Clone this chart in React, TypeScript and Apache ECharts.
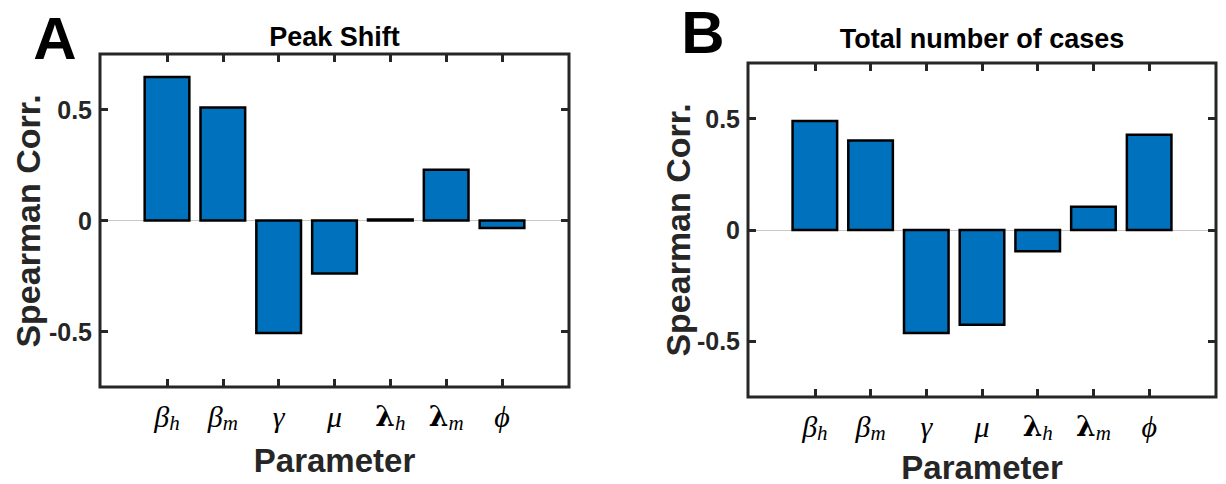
import React, { useEffect, useRef } from "react";
import * as echarts from "echarts";

// ---- data ----
const paramPos = [1, 2, 3, 4, 5, 6, 7];
const paramBase = ["β", "β", "γ", "μ", "λ", "λ", "ϕ"];
const paramSub = ["h", "m", "", "", "h", "m", ""];
const peakShift = [0.646, 0.509, -0.507, -0.239, 0.005, 0.229, -0.034];
const totalCases = [0.49, 0.402, -0.463, -0.426, -0.095, 0.104, 0.428];
const yTicks = [-0.5, 0, 0.5];
const panelTitles = ["Peak Shift", "Total number of cases"];
const panelLetters = ["A", "B"];
const yLabel = "Spearman Corr.";
const xLabel = "Parameter";

const AX = "#262626";
const SANS = '"Liberation Sans", Arial, Helvetica, sans-serif';
const SERIF = '"Liberation Serif", "DejaVu Serif", serif';
const SERIF_L = '"DejaVu Serif", "Liberation Serif", serif';

const grids = [
  { left: 100, top: 54, width: 469, height: 333 },
  { left: 748, top: 63, width: 468, height: 334 },
];

function tickLabel(value: number) {
  const i = paramPos.indexOf(Math.round(value));
  if (i < 0) return "";
  const key = paramBase[i] === "λ" ? "l" : "b";
  const base = `{${key}|${paramBase[i]}}`;
  return paramSub[i] ? `${base}{s|${paramSub[i]}}` : base;
}

const rich = {
  b: { fontFamily: SERIF, fontStyle: "italic", fontSize: 30, color: "#000", lineHeight: 34, verticalAlign: "middle" },
  l: { fontFamily: SERIF_L, fontWeight: "bold", fontSize: 28, color: "#000", lineHeight: 34, verticalAlign: "middle" },
  s: { fontFamily: SERIF, fontStyle: "italic", fontSize: 21, color: "#000", lineHeight: 34, verticalAlign: "bottom" },
};

function mkTick(values: number[]) {
  return { show: true, inside: true, length: 8, customValues: values, lineStyle: { color: AX, width: 3 } };
}

function axesFor(g: number) {
  const line = { show: false, onZero: false };
  const xAxes = [
    {
      gridIndex: g, type: "value", position: "bottom", min: -0.2, max: 8.2, z: 5,
      axisLine: line, splitLine: { show: false },
      axisTick: mkTick(paramPos),
      axisLabel: { show: true, customValues: paramPos, margin: 12, formatter: tickLabel, rich },
    },
    {
      gridIndex: g, type: "value", position: "top", min: -0.2, max: 8.2, z: 5,
      axisLine: line, splitLine: { show: false },
      axisTick: mkTick(paramPos),
      axisLabel: { show: false },
    },
  ];
  const yAxes = [
    {
      gridIndex: g, type: "value", position: "left", min: -0.75, max: 0.75, z: 5,
      axisLine: line, splitLine: { show: false },
      axisTick: mkTick(yTicks),
      axisLabel: {
        show: true, customValues: yTicks, margin: 8, color: AX,
        fontFamily: SANS, fontWeight: "bold", fontSize: 25,
        formatter: (v: number) => String(v),
      },
    },
    {
      gridIndex: g, type: "value", position: "right", min: -0.75, max: 0.75, z: 5,
      axisLine: line, splitLine: { show: false },
      axisTick: mkTick(yTicks),
      axisLabel: { show: false },
    },
  ];
  return { xAxes, yAxes };
}

function barSeries(g: number, values: number[]) {
  return {
    type: "custom",
    xAxisIndex: g * 2,
    yAxisIndex: g * 2,
    z: 3,
    data: values.map((v, i) => [paramPos[i], v]),
    encode: { x: 0, y: 1 },
    renderItem: (params: any, api: any) => {
      const x = api.value(0);
      const y = api.value(1);
      const p0 = api.coord([x - 0.4, y]);
      const p1 = api.coord([x + 0.4, 0]);
      return {
        type: "rect",
        shape: {
          x: p0[0],
          y: Math.min(p0[1], p1[1]),
          width: p1[0] - p0[0],
          height: Math.abs(p1[1] - p0[1]),
        },
        style: { fill: "#0072BD", stroke: "#000", lineWidth: 2.5 },
      };
    },
    markLine: {
      silent: true,
      z: 1,
      symbol: "none",
      label: { show: false },
      lineStyle: { color: "#c8c8c8", width: 1, type: "solid" },
      data: [{ yAxis: 0 }],
    },
  };
}

export default function App() {
  const ref = useRef<HTMLDivElement>(null);
  useEffect(() => {
    if (!ref.current) return;
    const chart = echarts.init(ref.current, null, { renderer: "svg" });
    const a0 = axesFor(0);
    const a1 = axesFor(1);
    const gridOpts = grids.map((g) => ({
      ...g,
      show: true,
      borderColor: AX,
      borderWidth: 3,
      backgroundColor: "transparent",
    }));
    const txt = (x: number, y: number, text: string, font: string, fill: string, rotation = 0) => ({
      type: "text",
      x,
      y,
      rotation,
      style: { text, font, fill, align: "center", verticalAlign: "middle" },
    });
    chart.setOption({
      animation: false,
      backgroundColor: "#fff",
      grid: gridOpts,
      xAxis: [...a0.xAxes, ...a1.xAxes],
      yAxis: [...a0.yAxes, ...a1.yAxes],
      series: [barSeries(0, peakShift), barSeries(1, totalCases)],
      graphic: [
        txt(55, 38, panelLetters[0], `bold 60px ${SANS}`, "#000"),
        txt(703, 32, panelLetters[1], `bold 60px ${SANS}`, "#000"),
        txt(334.5, 37, panelTitles[0], `bold 27px ${SANS}`, "#000"),
        txt(982, 39, panelTitles[1], `bold 27px ${SANS}`, "#000"),
        txt(28, 221, yLabel, `bold 34px ${SANS}`, AX, Math.PI / 2),
        txt(678, 230, yLabel, `bold 34px ${SANS}`, AX, Math.PI / 2),
        txt(334.5, 460, xLabel, `bold 33px ${SANS}`, AX),
        txt(982, 467, xLabel, `bold 33px ${SANS}`, AX),
      ],
    });
    return () => chart.dispose();
  }, []);
  return (
    <div
      ref={ref}
      style={{ position: "absolute", left: 0, top: 0, width: 1226, height: 484 }}
    />
  );
}
